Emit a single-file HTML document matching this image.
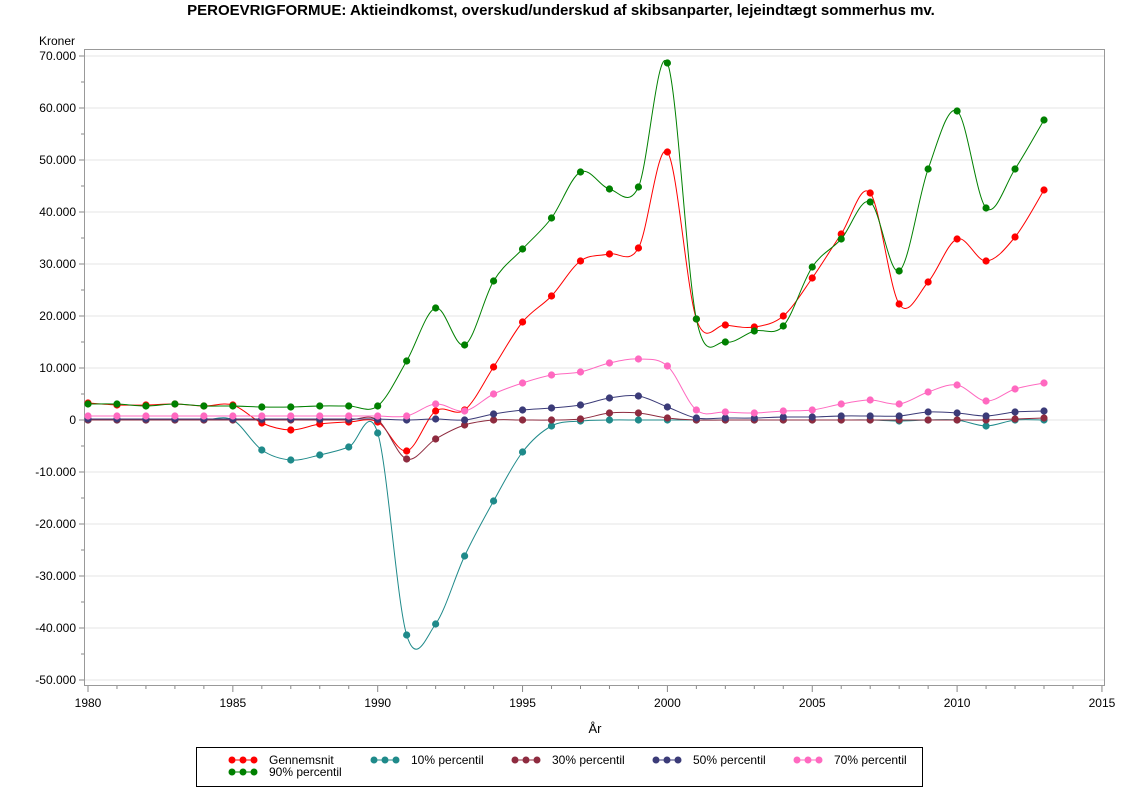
<!DOCTYPE html>
<html><head><meta charset="utf-8"><style>
body{margin:0;background:#fff;width:1122px;height:793px;overflow:hidden;font-family:"Liberation Sans",sans-serif}
</style></head><body>
<svg id="s" width="1122" height="793" xmlns="http://www.w3.org/2000/svg" font-family="Liberation Sans, sans-serif">
<text x="561" y="15" text-anchor="middle" font-size="15" font-weight="bold">PEROEVRIGFORMUE: Aktieindkomst, overskud/underskud af skibsanparter, lejeindtægt sommerhus mv.</text>
<text x="39" y="45" font-size="12">Kroner</text>
<g id="grid"></g>
<rect x="84.5" y="49.5" width="1020" height="636" fill="none" stroke="#999"/>
<g id="lines"></g>
<text x="595" y="733" text-anchor="middle" font-size="13">År</text>
<rect x="196.5" y="747.5" width="726" height="39" fill="none" stroke="#000"/>
<g id="leg" font-size="12"></g>
</svg>
<script>
const NS="http://www.w3.org/2000/svg";
function el(p,t,a,txt){const e=document.createElementNS(NS,t);for(const k in a)e.setAttribute(k,a[k]);if(txt!==undefined)e.textContent=txt;p.appendChild(e);return e;}
const g=document.getElementById('grid');
const Y=v=>420-v*0.0052, X=y=>88+(y-1980)*28.97;
for(let v=-50000;v<=70000;v+=10000){const y=Y(v);
 el(g,'line',{x1:85,x2:1104,y1:y,y2:y,stroke:'#e6e6e6'});
 el(g,'line',{x1:79,x2:84,y1:y,y2:y,stroke:'#888'});
 el(g,'text',{x:76,y:y+4,'text-anchor':'end','font-size':12},(v<0?'-':'')+(v==0?'0':Math.abs(v)/1000+'.000'));
 if(v<70000){const ym=Y(v+5000);el(g,'line',{x1:81,x2:84,y1:ym,y2:ym,stroke:'#888'});}
}
for(let yr=1980;yr<=2015;yr++){const x=X(yr);const maj=yr%5==0;
 el(g,'line',{x1:x,x2:x,y1:686,y2:maj?692:689,stroke:'#888'});
 if(maj)el(g,'text',{x:x,y:707,'text-anchor':'middle','font-size':12},yr);}
const S=[
['#ff0000','Gennemsnit',[403,405,405,404,406,405,423,430,424,422,422,451,411,410,367,322,296,261,254,248,152,319,325,327,316,278,234,193,304,282,239,261,237,190]],
['#1f8a8a','10% percentil',[420,420,420,420,420,420,450,460,455,447,433,635,624,556,501,452,426,421,420,420,420,420,420,420,420,420,420,420,421,420,420,426,420,420]],
['#8e2b3f','30% percentil',[420,420,420,420,420,420,420,420,420,420,420,459,439,425,420,420,420,419,413,413,418,420,420,420,420,420,420,420,420,420,420,420,419,418]],
['#3b3b78','50% percentil',[419,419,419,419,419,419,419,419,419,419,419,420,419,420,414,410,408,405,398,396,407,418,418,418,417,417,416,416,416,412,413,416,412,411]],
['#ff69c0','70% percentil',[416,416,416,416,416,416,416,416,416,416,416,416,404,411,394,383,375,372,363,359,366,410,412,413,411,410,404,400,404,392,385,401,389,383]],
['#008000','90% percentil',[404,404,406,404,406,406,407,407,406,406,406,361,308,345,281,249,218,172,189,187,63,319,342,331,326,267,239,202,271,169,111,208,169,120]]];
const L=document.getElementById('lines');
const lg=document.getElementById('leg');
const xs=[229,371,512,653,794];
S.forEach(([c,n,d],i)=>{
 const p=d.map((y,k)=>[X(1980+k),y]);
 let s=`M${p[0][0]},${p[0][1]}`;
 for(let k=0;k<p.length-1;k++){const a=p[k-1]||p[k],b=p[k],q=p[k+1],r=p[k+2]||q;
  s+=`C${b[0]+(q[0]-a[0])/6},${b[1]+(q[1]-a[1])/6} ${q[0]-(r[0]-b[0])/6},${q[1]-(r[1]-b[1])/6} ${q[0]},${q[1]}`;}
 el(L,'path',{d:s,fill:'none',stroke:c,'stroke-width':1});
 p.forEach(([x,y])=>el(L,'circle',{cx:x,cy:y,r:3.6,fill:c}));
 const bx=i<5?xs[i]+3:232, by=i<5?760:772;
 el(lg,'line',{x1:bx,x2:bx+22,y1:by,y2:by,stroke:c});
 [0,11,22].forEach(o=>el(lg,'circle',{cx:bx+o,cy:by,r:3.5,fill:c}));
 el(lg,'text',{x:i<5?xs[i]+40:269,y:by+4},n);
});
</script>
</body></html>
